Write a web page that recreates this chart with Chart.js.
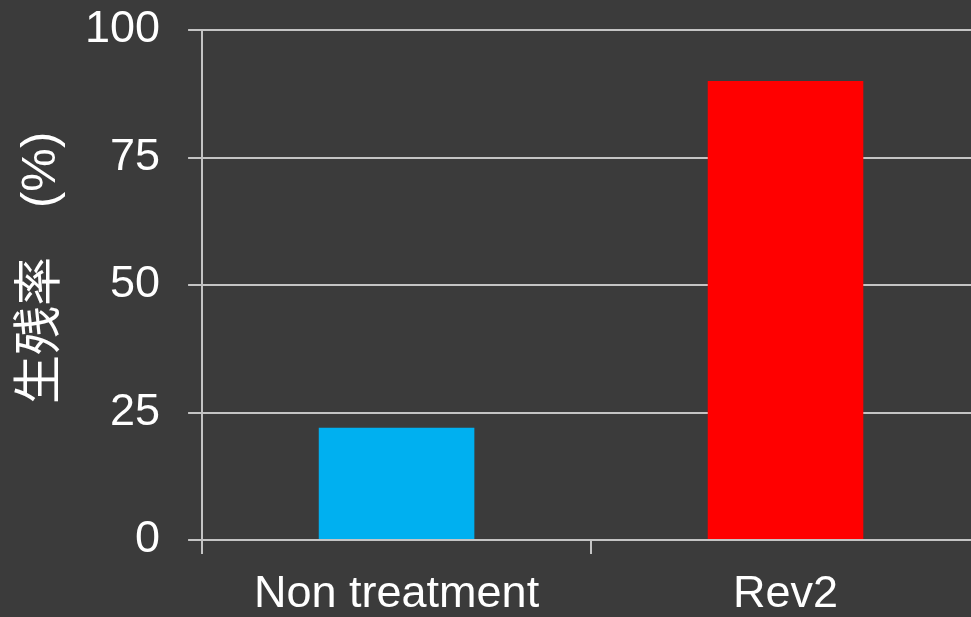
<!DOCTYPE html>
<html>
<head>
<meta charset="utf-8">
<script src="https://cdn.jsdelivr.net/npm/chart.js@4"></script>
<style>
  html, body { margin: 0; padding: 0; background: #3b3b3b; overflow: hidden; }
  #survival-chart { display: block; margin-top: -25px; }
</style>
</head>
<body>
<canvas id="survival-chart" width="980" height="661"></canvas>
<script>
const categories = ['Non treatment', 'Rev2'];
const survivalRates = [22, 90];
const barColors = ['#00b0f0', '#ff0000'];
const yTicks = [0, 25, 50, 75, 100];

const gridColor = '#c4c4c4';

const ctx = document.getElementById('survival-chart').getContext('2d');

new Chart(ctx, {
  type: 'bar',
  data: {
    labels: categories,
    datasets: [{
      data: survivalRates,
      backgroundColor: barColors,
      borderWidth: 0,
      categoryPercentage: 0.8,
      barPercentage: 0.5
    }]
  },
  options: {
    responsive: false,
    animation: false,
    layout: { padding: { top: 0, left: 7, right: 0, bottom: 0 } },
    plugins: {
      legend: { display: false },
      tooltip: { enabled: false }
    },
    scales: {
      x: {
        offset: true,
        grid: {
          display: true,
          offset: true,
          drawOnChartArea: false,
          drawTicks: true,
          tickLength: 14,
          color: gridColor,
          lineWidth: 2
        },
        border: { display: true, color: gridColor, width: 2 },
        ticks: {
          color: '#ffffff',
          padding: 14,
          font: { family: 'Liberation Sans, Arial, sans-serif', size: 45 }
        }
      },
      y: {
        min: 0,
        max: 100,
        afterBuildTicks: (axis) => {
          axis.ticks = yTicks.map(v => ({ value: v }));
        },
        grid: {
          color: gridColor,
          lineWidth: 2,
          tickLength: 14
        },
        border: { display: true, color: gridColor, width: 2 },
        ticks: {
          color: '#ffffff',
          padding: 28,
          font: { family: 'Liberation Sans, Arial, sans-serif', size: 45 }
        },
        title: {
          display: true,
          // leading spaces lift the title a little above centre
          text: '\u2002\u2009生残率　(%)',
          color: '#ffffff',
          padding: { top: 10, bottom: -9 },
          font: { family: 'Liberation Sans, "Noto Sans CJK JP", sans-serif', size: 49, lineHeight: 1.0 }
        }
      }
    }
  }
});
</script>
</body>
</html>
